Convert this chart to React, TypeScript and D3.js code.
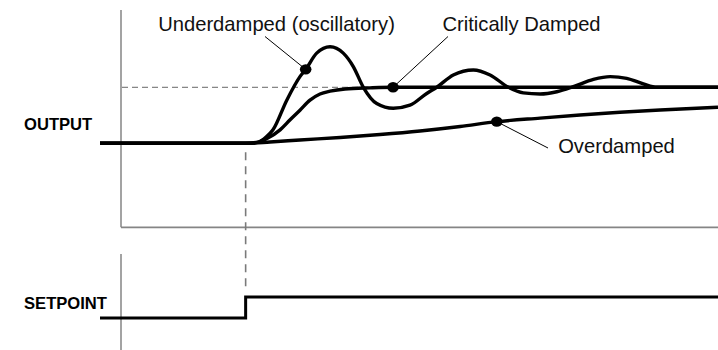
import React from "react";
import * as d3 from "d3";

// time (arbitrary units, step at t = 0) and normalized output values (0 = initial, 1 = setpoint)
const underdampedT = [-7.4, 0, 0.63, 1.04, 1.39, 2.09, 2.76, 3.05, 3.61, 4.29, 4.96, 5.47, 5.98, 6.66, 7.5, 8.35, 9.2, 9.71, 10.55, 11.57, 12.42, 13.35, 14.11, 14.96, 15.81, 16.65, 17.67, 18.52, 19.36, 20.21, 20.89, 24];
const underdampedV = [0, 0, 0.02, 0.11, 0.24, 0.77, 1.19, 1.32, 1.61, 1.725, 1.61, 1.37, 1.0, 0.71, 0.625, 0.68, 0.89, 1.0, 1.22, 1.31, 1.22, 1.0, 0.9, 0.88, 0.92, 1.01, 1.14, 1.19, 1.16, 1.06, 1.0, 1.0];

const criticalT = [-7.4, 0, 0.38, 1.04, 1.75, 2.26, 2.76, 3.27, 3.78, 4.29, 5.05, 6.32, 7.49, 24];
const criticalV = [0, 0, 0.003, 0.077, 0.24, 0.42, 0.59, 0.77, 0.88, 0.93, 0.97, 0.99, 1.0, 1.0];

const overdampedT = [-7.4, 0, 1.24, 2.76, 4.8, 6.83, 8.86, 10.9, 12.76, 14.96, 16.99, 19.02, 21.06, 24];
const overdampedV = [0, 0, 0.023, 0.059, 0.104, 0.157, 0.22, 0.3, 0.386, 0.45, 0.505, 0.554, 0.595, 0.643];

const setpointT = [-7.4, 0, 24];
const setpointV = [0, 1, 1];

// marker points on the curves where annotation leaders attach
const markerLabels = ["Underdamped (oscillatory)", "Critically Damped", "Overdamped"];
const markerT = [3.05, 7.49, 12.76];
const markerV = [1.32, 1.0, 0.386];

const panelLabels = ["OUTPUT", "SETPOINT"];

const W = 718;
const H = 350;

export default function App() {
  const x = d3.scaleLinear().domain([-7.4, 24]).range([100, 718]);
  const yOut = d3.scaleLinear().domain([-1.5, 2.38]).range([227.3, 10]);
  const ySp = d3.scaleLinear().domain([-1.52, 3.05]).range([350, 254]);

  const axisX = 121;

  const line = d3
    .line<[number, number]>()
    .x((d) => x(d[0]))
    .y((d) => yOut(d[1]))
    .curve(d3.curveMonotoneX);

  const zip = (a: number[], b: number[]) => a.map((t, i) => [t, b[i]] as [number, number]);

  const under = zip(underdampedT, underdampedV);
  const crit = zip(criticalT, criticalV);
  const over = zip(overdampedT, overdampedV);

  const spLine = d3
    .line<[number, number]>()
    .x((d) => x(d[0]))
    .y((d) => ySp(d[1]))
    .curve(d3.curveStepAfter);
  const sp = zip(setpointT, setpointV);

  const font = "'Liberation Sans', Arial, Helvetica, sans-serif";
  const axisColor = "#858585";

  // annotation label placement (layout)
  const labelPos = [
    { tx: 276.5, ty: 30.5, lx: 265, ly: 36.5 },
    { tx: 521.5, ty: 31, lx: 448, ly: 36.5 },
    { tx: 616.5, ty: 153, lx: 548, ly: 148 },
  ];

  return (
    <svg
      width={W}
      height={H}
      style={{ position: "absolute", left: 0, top: 0, background: "#fff" }}
      fontFamily={font}
    >
      <rect x={0} y={0} width={W} height={H} fill="#fff" />

      {/* output axes */}
      <line x1={axisX} x2={axisX} y1={yOut.range()[1]} y2={yOut.range()[0]} stroke={axisColor} strokeWidth={1.5} />
      <line x1={axisX} x2={W} y1={yOut.range()[0]} y2={yOut.range()[0]} stroke={axisColor} strokeWidth={1.8} />

      {/* setpoint axis */}
      <line x1={axisX} x2={axisX} y1={ySp.range()[1]} y2={ySp.range()[0]} stroke={axisColor} strokeWidth={1.5} />

      {/* setpoint reference (dashed) */}
      <line
        x1={axisX + 1}
        x2={x(24)}
        y1={yOut(1)}
        y2={yOut(1)}
        stroke="#666"
        strokeWidth={1}
        strokeDasharray="6,4"
      />

      {/* step time (dashed) */}
      <line
        x1={x(0)}
        x2={x(0)}
        y1={yOut(0) + 9}
        y2={ySp(1) - 10}
        stroke="#7a7a7a"
        strokeWidth={1.6}
        strokeDasharray="8,6"
      />

      {/* response curves */}
      {[over, crit, under].map((d, i) => (
        <path
          key={i}
          d={line(d) || ""}
          fill="none"
          stroke="#000"
          strokeWidth={3.4}
          strokeLinejoin="round"
        />
      ))}

      {/* setpoint step */}
      <path d={spLine(sp) || ""} fill="none" stroke="#000" strokeWidth={3} strokeLinejoin="miter" />

      {/* annotations */}
      {markerLabels.map((lab, i) => {
        const p = labelPos[i];
        const cx = x(markerT[i]);
        const cy = yOut(markerV[i]);
        return (
          <g key={lab}>
            <line x1={p.lx} y1={p.ly} x2={cx} y2={cy} stroke="#000" strokeWidth={1} />
            <ellipse cx={cx} cy={cy} rx={5.8} ry={5.2} fill="#000" />
            <text x={p.tx} y={p.ty} textAnchor="middle" fontSize={20.2} fill="#111">
              {lab}
            </text>
          </g>
        );
      })}

      {/* panel labels */}
      <text x={24} y={130} fontSize={16.6} fontWeight="bold" fill="#000">
        {panelLabels[0]}
      </text>
      <text x={24} y={309} fontSize={16.6} fontWeight="bold" fill="#000">
        {panelLabels[1]}
      </text>
    </svg>
  );
}
